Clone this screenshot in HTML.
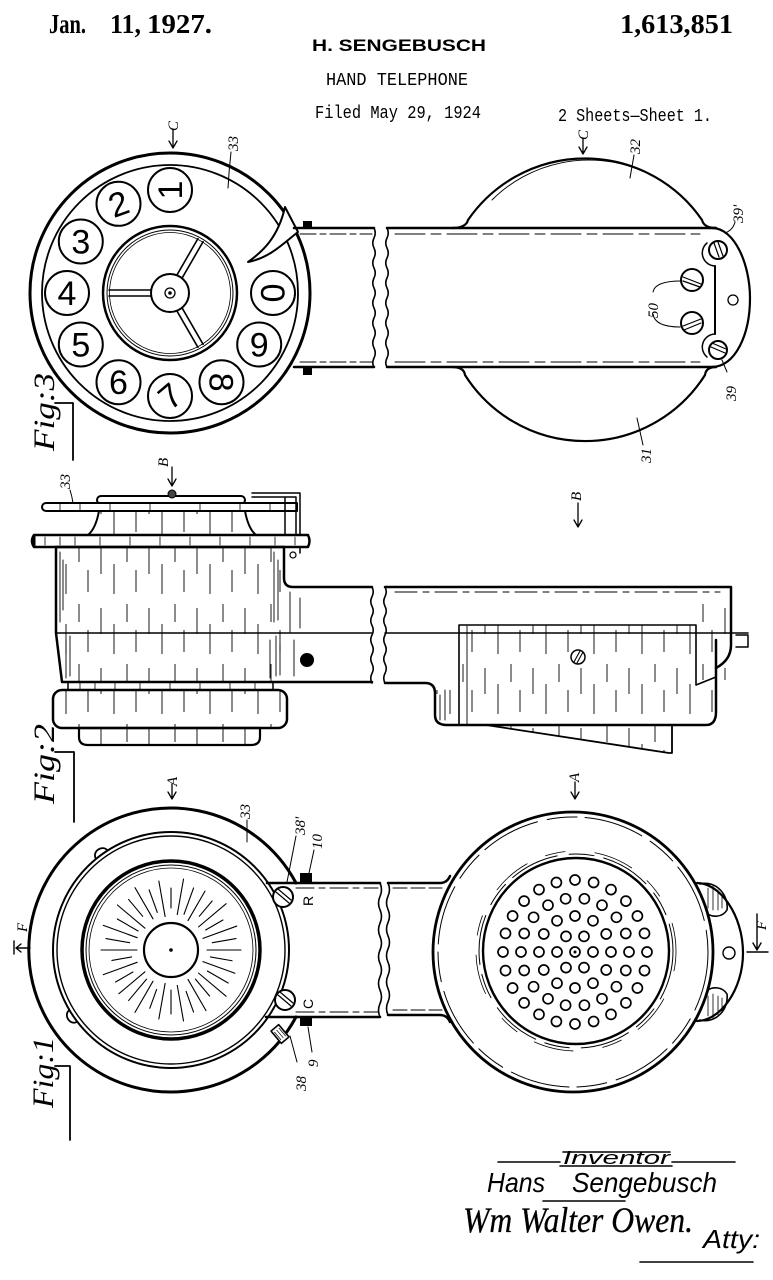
<!DOCTYPE html>
<html><head><meta charset="utf-8"><title>Hand Telephone</title>
<style>
html,body{margin:0;padding:0;background:#fff}
svg{display:block}
.lb{font-family:"Liberation Serif",serif;font-style:italic;font-size:15px;fill:#000;stroke:none}
.dg{font-family:"Liberation Sans",sans-serif;font-size:34px;fill:#000;stroke:none;text-anchor:middle}
.fg{font-family:"Liberation Serif",serif;font-style:italic;font-size:30px;fill:#000;stroke:none}
</style></head><body>
<svg width="773" height="1280" viewBox="0 0 773 1280" xmlns="http://www.w3.org/2000/svg">
<defs>
<pattern id="h" patternUnits="userSpaceOnUse" width="48" height="60">
<path d="M5,8v26M18,24v30M31,4v18M40,30v22" stroke="#000" stroke-width="0.9" fill="none"/>
</pattern>
</defs>
<rect width="773" height="1280" fill="#fff"/>

<!-- HEADER -->
<g fill="#000">
<text x="49" y="33" font-family="Liberation Serif" font-weight="bold" font-size="27" textLength="37" lengthAdjust="spacingAndGlyphs">Jan.</text>
<text x="110" y="33" font-family="Liberation Serif" font-weight="bold" font-size="27" textLength="31" lengthAdjust="spacingAndGlyphs">11,</text>
<text x="147" y="33" font-family="Liberation Serif" font-weight="bold" font-size="27" textLength="65" lengthAdjust="spacingAndGlyphs">1927.</text>
<text x="620" y="33" font-family="Liberation Serif" font-weight="bold" font-size="27" textLength="113" lengthAdjust="spacingAndGlyphs">1,613,851</text>
<text x="312" y="51" font-family="Liberation Sans" font-weight="bold" font-size="17" textLength="174" lengthAdjust="spacingAndGlyphs">H. SENGEBUSCH</text>
<text x="326" y="85" font-family="Liberation Mono" font-size="18" textLength="142" lengthAdjust="spacingAndGlyphs">HAND TELEPHONE</text>
<text x="315" y="118" font-family="Liberation Mono" font-size="18" textLength="166" lengthAdjust="spacingAndGlyphs">Filed May 29, 1924</text>
<text x="558" y="121" font-family="Liberation Mono" font-size="18" textLength="154" lengthAdjust="spacingAndGlyphs">2 Sheets—Sheet 1.</text>
</g>

<g fill="none" stroke="#000" stroke-linecap="round" stroke-linejoin="round">

<!-- ============ FIG 3 LEFT (dial) ============ -->
<circle cx="170" cy="293" r="140" stroke-width="3"/>
<circle cx="170" cy="293" r="128" stroke-width="1.8"/>
<g stroke-width="2">
<circle cx="170" cy="190" r="22"/>
<circle cx="118.5" cy="203.8" r="22"/>
<circle cx="80.8" cy="241.5" r="22"/>
<circle cx="67" cy="293" r="22"/>
<circle cx="80.8" cy="344.5" r="22"/>
<circle cx="118.5" cy="382.2" r="22"/>
<circle cx="170" cy="396" r="22"/>
<circle cx="221.5" cy="382.2" r="22"/>
<circle cx="259.2" cy="344.5" r="22"/>
<circle cx="273" cy="293" r="22"/>
</g>
<circle cx="170" cy="293" r="67" stroke-width="2.5"/>
<circle cx="170" cy="293" r="63" stroke-width="1"/>
<circle cx="170" cy="293" r="60.5" stroke-width="0.8"/>
<g stroke-width="1.6">
<path d="M19,-3L61,-3M19,3L61,3" transform="translate(170,293) rotate(180)"/>
<path d="M19,-3L61,-3M19,3L61,3" transform="translate(170,293) rotate(-60)"/>
<path d="M19,-3L61,-3M19,3L61,3" transform="translate(170,293) rotate(60)"/>
</g>
<circle cx="170" cy="293" r="19" stroke-width="2" fill="#fff"/>
<circle cx="170" cy="293" r="5" stroke-width="1.3"/>
<circle cx="170" cy="293" r="1.3" fill="#000"/>
<!-- finger stop -->
<path d="M248,262 C262,252 278,238 285,207 L298,232 C285,242 270,258 248,262 Z" stroke-width="2" fill="#fff"/>
<!-- handle -->
<path d="M294,228 L374,228 M294,367 L374,367" stroke-width="2.5"/>
<path d="M300,234 L372,234 M300,362 L372,362" stroke-width="1" stroke-dasharray="16 4 6 4"/>
<path d="M374,228 q2.5,5 0,10 q-2.5,5 0,10 q2.5,5 0,10 q-2.5,5 0,10 q2.5,5 0,10 q-2.5,5 0,10 q2.5,5 0,10 q-2.5,5 0,10 q2.5,5 0,10 q-2.5,5 0,10 q2.5,5 0,10 q-2.5,5 0,10 q2.5,5 0,10 q-2.5,5 0,9" stroke-width="1.6"/>
<rect x="303" y="221" width="9" height="7" fill="#000" stroke="none"/>
<rect x="303" y="368" width="9" height="7" fill="#000" stroke="none"/>
<!-- labels -->
<path d="M173,130 L173,148 M169,141 L173,148 L177,141" stroke-width="1.3"/>
<path d="M231,152 Q229,170 228,188" stroke-width="1"/>

<!-- ============ FIG 3 RIGHT ============ -->
<path d="M452,228 Q466,228 468,220 A142,142 0 0 1 702,220 Q704,228 716,228" stroke-width="2.2"/>
<path d="M452,367 Q464,367 465,375 A142,142 0 0 0 705,375 Q706,367 716,367" stroke-width="2.2"/>
<path d="M492,200 A137,137 0 0 1 640,170" stroke-width="0.9"/>
<path d="M387,228 L716,228 M387,367 L716,367" stroke-width="2.5"/>
<path d="M395,234 L700,234 M395,362 L700,362" stroke-width="1" stroke-dasharray="30 6 10 6"/>
<path d="M387,228 q2.5,5 0,10 q-2.5,5 0,10 q2.5,5 0,10 q-2.5,5 0,10 q2.5,5 0,10 q-2.5,5 0,10 q2.5,5 0,10 q-2.5,5 0,10 q2.5,5 0,10 q-2.5,5 0,10 q2.5,5 0,10 q-2.5,5 0,10 q2.5,5 0,10 q-2.5,5 0,9" stroke-width="1.6"/>
<path d="M712,228 C735,228 750,265 750,298 C750,335 735,367 712,367" stroke-width="2.2"/>
<path d="M715,266 L715,334" stroke-width="2"/>
<path d="M715,266 A13,13 0 0 1 707,243" stroke-width="1.5"/>
<path d="M715,334 A13,13 0 0 0 707,357" stroke-width="1.5"/>
<circle cx="718" cy="250" r="9" stroke-width="2"/>
<path d="M714,243 L719,257 M718,242 L723,256" stroke-width="1.2"/>
<circle cx="718" cy="350" r="9" stroke-width="2"/>
<path d="M711,347 L725,353 M712,343 L726,349" stroke-width="1.2"/>
<circle cx="692" cy="280" r="11" stroke-width="2"/>
<path d="M683,277 L701,284 M683,281 L700,287" stroke-width="1.2"/>
<circle cx="692" cy="323" r="11" stroke-width="2"/>
<path d="M683,326 L701,319 M684,330 L701,323" stroke-width="1.2"/>
<circle cx="733" cy="300" r="5" stroke-width="1.3"/>
<path d="M583,138 L583,154 M579,147 L583,154 L587,147" stroke-width="1.3"/>
<path d="M634,155 L630,178" stroke-width="1"/>
<path d="M735,222 Q733,230 725,233" stroke-width="1"/>
<path d="M653,292 Q655,281 681,281 M653,314 Q655,327 680,327" stroke-width="1"/>
<path d="M727,372 L722,360" stroke-width="1"/>
<path d="M643,445 L637,418" stroke-width="1"/>

<!-- Fig labels lines -->
<path d="M55,403 L73,403 L73,460" stroke-width="1.8"/>
<path d="M55,752 L74,752 L74,822" stroke-width="1.8"/>
<path d="M55,1066 L70,1066 L70,1140" stroke-width="1.8"/>

<!-- ============ FIG 2 LEFT ============ -->
<path d="M99,511 L245,511 C247,522 250,530 256,535 L88,535 C94,530 97,522 99,511 Z" fill="url(#h)" stroke-width="2"/>
<rect x="97" y="496" width="148" height="8" rx="4" fill="#fff" stroke-width="2"/>
<circle cx="172" cy="494" r="4" fill="#444" stroke-width="1"/>
<path d="M46,503 L297,503 L297,511 L46,511 A4,4 0 0 1 46,503 Z" fill="#fff" stroke-width="2"/>
<path d="M60,504v6M80,504v6M110,504v6M150,504v6M200,504v6M240,504v6M270,504v6" stroke-width="0.8"/>
<path d="M252,493 L300,493 L300,553 M252,497 L296,497 L296,535 M285,498 L285,535" stroke-width="1.5"/>
<circle cx="293" cy="555" r="3" stroke-width="1.2"/>
<path d="M34,535 L308,535 Q311,541 308,547 L34,547 Q30,541 34,535 Z" fill="#fff" stroke-width="2.5"/>
<path d="M34,536 L34,546" stroke-width="3"/>
<path d="M45,537v8M60,537v8M75,537v8M100,537v8M130,537v8M160,537v8M190,537v8M220,537v8M250,537v8M275,537v8M295,537v8" stroke-width="0.8"/>
<rect x="56" y="547" width="228" height="135" fill="url(#h)" stroke="none"/>
<path d="M60,552v70M63,560v50M66,640v38M70,636v40M274,552v70M278,560v60M270,640v38M276,636v40M280,645v30" stroke-width="0.9"/>
<path d="M56,547 L56,633 L62,682 L372,682" stroke-width="2.5"/>
<path d="M56,547 L284,547 L284,578 Q284,587 293,587 L372,587" stroke-width="2.5"/>
<path d="M56,633 L372,633" stroke-width="1.6"/>
<path d="M290,592v40M294,640v36M300,598v30" stroke-width="0.9"/>
<path d="M372,587 q2.5,4.8 0,9.6 q-2.5,4.8 0,9.6 q2.5,4.8 0,9.6 q-2.5,4.8 0,9.6 q2.5,4.8 0,9.6 q-2.5,4.8 0,9.6 q2.5,4.8 0,9.6 q-2.5,4.8 0,9.6 q2.5,4.8 0,9.6 q-2.5,4.8 0,9.6" stroke-width="1.6"/>
<circle cx="307" cy="660" r="7" fill="#000" stroke="none"/>
<path d="M68,682 L68,690 M273,682 L273,690" stroke-width="1.5"/>
<path d="M80,683v6M95,683v6M115,683v6M140,683v6M170,683v6M200,683v6M230,683v6M255,683v6" stroke-width="0.8"/>
<rect x="53" y="690" width="234" height="38" rx="9" fill="url(#h)" stroke-width="2.5"/>
<path d="M79,728 L260,728 L260,737 Q260,745 251,745 L88,745 Q79,745 79,737 Z" fill="url(#h)" stroke-width="2.2"/>
<path d="M172,467 L172,486 M168,479 L172,486 L176,479" stroke-width="1.3"/>
<path d="M70,490 Q72,496 73,503" stroke-width="1"/>

<!-- ============ FIG 2 RIGHT ============ -->
<path d="M385,587 q2.5,4.8 0,9.6 q-2.5,4.8 0,9.6 q2.5,4.8 0,9.6 q-2.5,4.8 0,9.6 q2.5,4.8 0,9.6 q-2.5,4.8 0,9.6 q2.5,4.8 0,9.6 q-2.5,4.8 0,9.6 q2.5,4.8 0,9.6 q-2.5,4.8 0,9.6" stroke-width="1.6"/>
<path d="M385,587 L731,587 L731,645 Q731,660 716,668" stroke-width="2.5"/>
<path d="M395,592 L720,592" stroke-width="1" stroke-dasharray="22 6 6 6"/>
<rect x="702" y="595" width="26" height="85" fill="url(#h)" stroke="none"/>
<path d="M435,690 L459,690 L459,625 L696,625 L696,685 L716,677 L716,712 Q716,725 706,725 L447,725 Q435,725 435,715 Z" fill="url(#h)" stroke="none"/>
<path d="M385,683 L425,683 Q435,683 435,693 L435,715 Q435,725 447,725 L706,725 Q716,725 716,712 L716,640" stroke-width="2.5"/>
<path d="M459,725 L459,625 L696,625 L696,685 L716,677" stroke-width="1.6"/>
<path d="M467,626 L467,724 M440,695v25M445,690v30" stroke-width="0.9"/>
<path d="M385,633 L748,633" stroke-width="1.6"/>
<path d="M736,635 L748,635 L748,647 L736,647" stroke-width="1.5"/>
<path d="M486,725 L669,753 L672,753 L672,725 Z" fill="url(#h)" stroke-width="1.8"/>
<circle cx="578" cy="657" r="7" fill="#fff" stroke-width="1.5"/>
<path d="M574,662 L580,651 M577,663 L583,652" stroke-width="1.1"/>
<path d="M578,503 L578,527 M574,520 L578,527 L582,520" stroke-width="1.3"/>

<!-- ============ FIG 1 LEFT ============ -->
<path d="M172,784 L172,799 M168,792 L172,799 L176,792" stroke-width="1.3"/>
<path d="M296,883 A142,142 0 1 0 296,1017" stroke-width="3"/>
<path d="M-7,0 A7,6 0 0 1 7,0" transform="translate(101.6,854.5) rotate(-36)" stroke-width="1.8" fill="#fff"/>
<path d="M-7,0 A7,6 0 0 1 7,0" transform="translate(73.2,1016) rotate(-124)" stroke-width="1.8" fill="#fff"/>
<circle cx="171" cy="950" r="118" stroke-width="2"/>
<circle cx="171" cy="950" r="114" stroke-width="1.4"/>
<circle cx="171" cy="950" r="89" stroke-width="3.5"/>
<circle cx="171" cy="950" r="85" stroke-width="1"/>
<circle cx="171" cy="950" r="82" stroke-width="0.8"/>
<circle cx="171" cy="950" r="27" stroke-width="2.2"/>
<circle cx="171" cy="950" r="1.3" fill="#000"/>
<g transform="translate(171,950)" stroke-width="1.1">
<path d="M36,0L70,0" transform="rotate(0)"/>
<path d="M40,0L62,0" transform="rotate(10)"/>
<path d="M34,0L68,0" transform="rotate(20)"/>
<path d="M42,0L66,0" transform="rotate(30)"/>
<path d="M36,0L72,0" transform="rotate(40)"/>
<path d="M38,0L60,0" transform="rotate(50)"/>
<path d="M34,0L70,0" transform="rotate(60)"/>
<path d="M44,0L66,0" transform="rotate(70)"/>
<path d="M36,0L72,0" transform="rotate(80)"/>
<path d="M40,0L64,0" transform="rotate(90)"/>
<path d="M34,0L70,0" transform="rotate(100)"/>
<path d="M42,0L62,0" transform="rotate(110)"/>
<path d="M36,0L72,0" transform="rotate(120)"/>
<path d="M38,0L66,0" transform="rotate(130)"/>
<path d="M34,0L68,0" transform="rotate(140)"/>
<path d="M44,0L64,0" transform="rotate(150)"/>
<path d="M36,0L72,0" transform="rotate(160)"/>
<path d="M40,0L60,0" transform="rotate(170)"/>
<path d="M34,0L70,0" transform="rotate(180)"/>
<path d="M42,0L66,0" transform="rotate(190)"/>
<path d="M36,0L72,0" transform="rotate(200)"/>
<path d="M38,0L62,0" transform="rotate(210)"/>
<path d="M34,0L70,0" transform="rotate(220)"/>
<path d="M44,0L66,0" transform="rotate(230)"/>
<path d="M36,0L72,0" transform="rotate(240)"/>
<path d="M40,0L64,0" transform="rotate(250)"/>
<path d="M34,0L70,0" transform="rotate(260)"/>
<path d="M42,0L62,0" transform="rotate(270)"/>
<path d="M36,0L72,0" transform="rotate(280)"/>
<path d="M38,0L66,0" transform="rotate(290)"/>
<path d="M34,0L68,0" transform="rotate(300)"/>
<path d="M44,0L64,0" transform="rotate(310)"/>
<path d="M36,0L72,0" transform="rotate(320)"/>
<path d="M40,0L60,0" transform="rotate(330)"/>
<path d="M34,0L70,0" transform="rotate(340)"/>
<path d="M42,0L66,0" transform="rotate(350)"/>
</g>
<path d="M267,883 L380,883 M266,1017 L380,1017" stroke-width="2.5"/>
<path d="M296,888 L378,888 M296,1012 L378,1012" stroke-width="1" stroke-dasharray="18 5 6 5"/>
<path d="M380,883 q3,6.7 0,13.4 q-3,6.7 0,13.4 q3,6.7 0,13.4 q-3,6.7 0,13.4 q3,6.7 0,13.4 q-3,6.7 0,13.4 q3,6.7 0,13.4 q-3,6.7 0,13.4 q3,6.7 0,13.4 q-3,6.7 0,13.4" stroke-width="1.6"/>
<circle cx="283" cy="897" r="10" fill="#fff" stroke-width="2"/>
<path d="M276,892 L289,903 M278,889 L291,900" stroke-width="1.2"/>
<circle cx="285" cy="1000" r="10" fill="#fff" stroke-width="2"/>
<path d="M278,995 L291,1006 M280,992 L293,1003" stroke-width="1.2"/>
<rect x="300" y="873" width="12" height="9" fill="#000" stroke="none"/>
<rect x="300" y="1017" width="12" height="9" fill="#000" stroke="none"/>
<rect x="-8" y="-5" width="16" height="10" transform="translate(280,1034) rotate(50)" fill="#fff" stroke-width="1.6"/>
<path d="M-5,-3L5,-3M-5,0L5,0M-5,3L5,3" transform="translate(280,1034) rotate(50)" stroke-width="0.7"/>
<path d="M247,820 L247,842" stroke-width="1"/>
<path d="M296,836 L287,882" stroke-width="1"/>
<path d="M314,850 L309,873" stroke-width="1"/>
<path d="M297,1062 L290,1036" stroke-width="1"/>
<path d="M312,1052 L308,1027" stroke-width="1"/>
<path d="M14,941 L14,954 M30,948 L16,948 M21,944 L16,948 L21,952" stroke-width="1.4"/>

<!-- ============ FIG 1 RIGHT ============ -->
<path d="M575,782 L575,799 M571,792 L575,799 L579,792" stroke-width="1.3"/>
<circle cx="573" cy="952" r="140" stroke-width="2.8"/>
<circle cx="573" cy="952" r="135" stroke-width="1" stroke-dasharray="60 10 30 8"/>
<circle cx="576" cy="951" r="93" stroke-width="2.4"/>
<circle cx="576" cy="951" r="97" stroke-width="1" stroke-dasharray="50 12 25 10"/>
<circle cx="576" cy="951" r="100" stroke-width="0.8" stroke-dasharray="20 30 40 20"/>
<path d="M388,883 L440,883 Q447,883 450,876 M388,1015 L440,1015 Q447,1015 450,1022" stroke-width="2.5"/>
<path d="M393,888 L442,888 M393,1010 L442,1010" stroke-width="1" stroke-dasharray="14 4"/>
<path d="M388,883 q3,6.6 0,13.2 q-3,6.6 0,13.2 q3,6.6 0,13.2 q-3,6.6 0,13.2 q3,6.6 0,13.2 q-3,6.6 0,13.2 q3,6.6 0,13.2 q-3,6.6 0,13.2 q3,6.6 0,13.2 q-3,6.6 0,13.2" stroke-width="1.6"/>
<path d="M697,883 C720,883 743,915 743,953 C743,990 720,1021 697,1021" stroke-width="2.2"/>
<path d="M700,884 C716,880 729,895 727,910 C722,918 712,917 708,914" stroke-width="1.6"/>
<path d="M708,888v20M713,886v24M718,890v20M722,894v14" stroke-width="0.8"/>
<path d="M700,1020 C716,1024 729,1009 727,994 C722,986 712,987 708,990" stroke-width="1.6"/>
<path d="M708,996v20M713,994v24M718,996v20M722,998v14" stroke-width="0.8"/>
<circle cx="729" cy="953" r="6" stroke-width="1.4"/>
<path d="M757,914 L757,950 M753,943 L757,950 L761,943 M747,952 L768,952" stroke-width="1.4"/>
<g stroke-width="1.7">
<circle cx="575" cy="952" r="5"/>
<circle cx="593" cy="952" r="5"/><circle cx="584" cy="967.6" r="5"/><circle cx="566" cy="967.6" r="5"/><circle cx="557" cy="952" r="5"/><circle cx="566" cy="936.4" r="5"/><circle cx="584" cy="936.4" r="5"/>
<circle cx="611" cy="952" r="5"/><circle cx="606.2" cy="970" r="5"/><circle cx="593" cy="983.2" r="5"/><circle cx="575" cy="988" r="5"/><circle cx="557" cy="983.2" r="5"/><circle cx="543.8" cy="970" r="5"/><circle cx="539" cy="952" r="5"/><circle cx="543.8" cy="934" r="5"/><circle cx="557" cy="920.8" r="5"/><circle cx="575" cy="916" r="5"/><circle cx="593" cy="920.8" r="5"/><circle cx="606.2" cy="934" r="5"/>
<circle cx="629" cy="952" r="5"/><circle cx="625.8" cy="970.5" r="5"/><circle cx="616.4" cy="986.7" r="5"/><circle cx="602" cy="998.8" r="5"/><circle cx="584.4" cy="1005.2" r="5"/><circle cx="565.6" cy="1005.2" r="5"/><circle cx="548" cy="998.8" r="5"/><circle cx="533.6" cy="986.7" r="5"/><circle cx="524.2" cy="970.5" r="5"/><circle cx="521" cy="952" r="5"/><circle cx="524.2" cy="933.5" r="5"/><circle cx="533.6" cy="917.3" r="5"/><circle cx="548" cy="905.2" r="5"/><circle cx="565.6" cy="898.8" r="5"/><circle cx="584.4" cy="898.8" r="5"/><circle cx="602" cy="905.2" r="5"/><circle cx="616.4" cy="917.3" r="5"/><circle cx="625.8" cy="933.5" r="5"/>
<circle cx="647" cy="952" r="5"/><circle cx="644.5" cy="970.6" r="5"/><circle cx="637.4" cy="988" r="5"/><circle cx="625.9" cy="1002.9" r="5"/><circle cx="611" cy="1014.4" r="5"/><circle cx="593.6" cy="1021.5" r="5"/><circle cx="575" cy="1024" r="5"/><circle cx="556.4" cy="1021.5" r="5"/><circle cx="539" cy="1014.4" r="5"/><circle cx="524.1" cy="1002.9" r="5"/><circle cx="512.6" cy="988" r="5"/><circle cx="505.5" cy="970.6" r="5"/><circle cx="503" cy="952" r="5"/><circle cx="505.5" cy="933.4" r="5"/><circle cx="512.6" cy="916" r="5"/><circle cx="524.1" cy="901.1" r="5"/><circle cx="539" cy="889.6" r="5"/><circle cx="556.4" cy="882.5" r="5"/><circle cx="575" cy="880" r="5"/><circle cx="593.6" cy="882.5" r="5"/><circle cx="611" cy="889.6" r="5"/><circle cx="625.9" cy="901.1" r="5"/><circle cx="637.4" cy="916" r="5"/><circle cx="644.5" cy="933.4" r="5"/>
</g>
<circle cx="575" cy="952" r="1" fill="#000"/>

<!-- signature lines -->
<path d="M498,1162 L560,1162 M672,1162 L735,1162 M563,1152 L670,1152 M560,1166 L672,1166" stroke-width="1.6"/>
<path d="M543,1201 L625,1201" stroke-width="1.6"/>
<path d="M640,1262 L753,1262" stroke-width="1.6"/>
</g>

<!-- DIGITS -->
<text class="dg" transform="translate(170,190) rotate(-90)" y="12">1</text>
<text class="dg" transform="translate(118.5,203.8) rotate(-20)" y="12">2</text>
<text class="dg" transform="translate(80.8,241.5)" y="12">3</text>
<text class="dg" transform="translate(67,293)" y="12">4</text>
<text class="dg" transform="translate(80.8,344.5)" y="12">5</text>
<text class="dg" transform="translate(118.5,382.2)" y="12">6</text>
<text class="dg" transform="translate(170,396) rotate(-40)" y="12">7</text>
<text class="dg" transform="translate(221.5,382.2) rotate(90)" y="12">8</text>
<text class="dg" transform="translate(259.2,344.5)" y="12">9</text>
<text class="dg" transform="translate(273,293) rotate(90)" y="12">0</text>

<!-- LABELS (rotated) -->
<text class="lb" transform="translate(178,131) rotate(-90)">C</text>
<text class="lb" transform="translate(238,151) rotate(-90)">33</text>
<text class="lb" transform="translate(588,140) rotate(-90)">C</text>
<text class="lb" transform="translate(640,154) rotate(-90)">32</text>
<text class="lb" transform="translate(743,223) rotate(-90)">39'</text>
<text class="lb" transform="translate(658,318) rotate(-90)">50</text>
<text class="lb" transform="translate(736,401) rotate(-90)">39</text>
<text class="lb" transform="translate(651,463) rotate(-90)">31</text>

<text class="lb" transform="translate(168,467) rotate(-90)">B</text>
<text class="lb" transform="translate(70,489) rotate(-90)">33</text>
<text class="lb" transform="translate(581,501) rotate(-90)">B</text>

<text class="lb" transform="translate(177,786) rotate(-90)">A</text>
<text class="lb" transform="translate(579,782) rotate(-90)">A</text>
<text class="lb" transform="translate(250,819) rotate(-90)">33</text>
<text class="lb" transform="translate(305,835) rotate(-90)">38'</text>
<text class="lb" transform="translate(322,849) rotate(-90)">10</text>
<text class="lb" transform="translate(306,1091) rotate(-90)">38</text>
<text class="lb" transform="translate(318,1067) rotate(-90)">9</text>
<text class="lb" transform="translate(27,932) rotate(-90)">F</text>
<text class="lb" transform="translate(766,930) rotate(-90)">F</text>
<text transform="translate(313,906) rotate(-90)" font-family="Liberation Sans" font-size="14" fill="#000">R</text>
<text transform="translate(313,1009) rotate(-90)" font-family="Liberation Sans" font-size="14" fill="#000">C</text>

<text class="fg" transform="translate(54,451) rotate(-90)" textLength="78" lengthAdjust="spacingAndGlyphs">Fig:3</text>
<text class="fg" transform="translate(54,804) rotate(-90)" textLength="80" lengthAdjust="spacingAndGlyphs">Fig:2</text>
<text class="fg" transform="translate(53,1108) rotate(-90)" textLength="71" lengthAdjust="spacingAndGlyphs">Fig:1</text>

<!-- SIGNATURE BLOCK -->
<g fill="#000">
<text x="563" y="1164" font-family="Liberation Sans" font-style="italic" font-size="18" textLength="107" lengthAdjust="spacingAndGlyphs">Inventor</text>
<text x="487" y="1192" font-family="Liberation Sans" font-style="italic" font-size="28" textLength="58" lengthAdjust="spacingAndGlyphs">Hans</text>
<text x="572" y="1192" font-family="Liberation Sans" font-style="italic" font-size="28" textLength="145" lengthAdjust="spacingAndGlyphs">Sengebusch</text>
<text x="463" y="1232" font-family="Liberation Serif" font-style="italic" font-size="36" textLength="230" lengthAdjust="spacingAndGlyphs" stroke="#000" stroke-width="0.3">Wm Walter Owen.</text>
<text x="703" y="1248" font-family="Liberation Sans" font-style="italic" font-size="26" textLength="57" lengthAdjust="spacingAndGlyphs">Atty:</text>
</g>
</svg>
</body></html>
